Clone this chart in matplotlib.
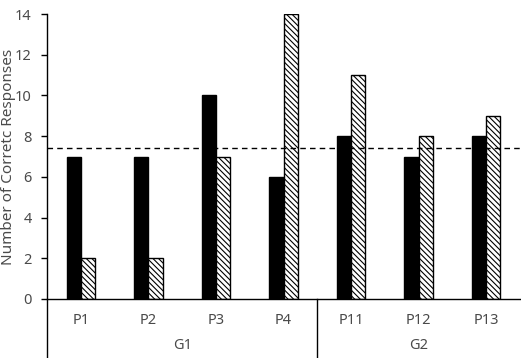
import matplotlib
matplotlib.use("Agg")
import matplotlib.pyplot as plt
import numpy as np

categories = ["P1", "P2", "P3", "P4", "P11", "P12", "P13"]
groups = ["G1", "G2"]
group_sizes = [4, 3]
series_black = [7, 7, 10, 6, 8, 7, 8]
series_hatched = [2, 2, 7, 14, 11, 8, 9]
reference_line = 7.42

plt.rcParams['font.family'] = ['Noto Sans', 'DejaVu Sans']
plt.rcParams['hatch.linewidth'] = 0.8
text_color = '#4a4a4a'

W, H = 521, 358
fig = plt.figure(figsize=(W / 100, H / 100), dpi=100)
ax = fig.add_axes([47 / W, (H - 299) / H, (520 - 47) / W, (299 - 14) / H])

x = np.arange(len(categories))
bw = 0.21
ax.bar(x - bw / 2, series_black, width=bw, color='black', edgecolor='black', linewidth=1)
ax.bar(x + bw / 2, series_hatched, width=bw, color='white', edgecolor='black',
       hatch='\\\\\\\\\\\\', linewidth=1)
ax.axhline(reference_line, color='black', linestyle=(0, (4, 3)), linewidth=1)

ax.set_xlim(-0.5, len(categories) - 0.5)
ax.set_ylim(0, 14)
ax.set_yticks(range(0, 15, 2))
ax.tick_params(axis='y', labelcolor=text_color, labelsize=10.5, length=4, width=1, pad=7, color='black')
ax.set_xticks([])
ax.spines['top'].set_visible(False)
ax.spines['right'].set_visible(False)
ax.spines['bottom'].set_linewidth(1)
ax.spines['left'].set_visible(False)
ax.set_ylabel("Number of Corretc Responses", color=text_color, fontsize=11, va='center')
ax.yaxis.set_label_coords((9 - 47) / 473, 0.5)

# left axis line extending below
ax.plot([-0.5, -0.5], [14, -2.9], color='black', linewidth=1, clip_on=False)

# category labels
for xi, c in zip(x, categories):
    ax.text(xi, -1.05, c, ha='center', va='center', color=text_color, fontsize=10.5)

# group labels and separators
start = 0
for gi, (g, n) in enumerate(zip(groups, group_sizes)):
    center = start + (n - 1) / 2
    ax.text(center, -2.3, g, ha='center', va='center', color=text_color, fontsize=10.5)
    start += n
    if gi < len(groups) - 1:
        ax.plot([start - 0.5, start - 0.5], [0, -2.9], color='black', linewidth=1, clip_on=False)

fig.savefig("out.png", dpi=100)
